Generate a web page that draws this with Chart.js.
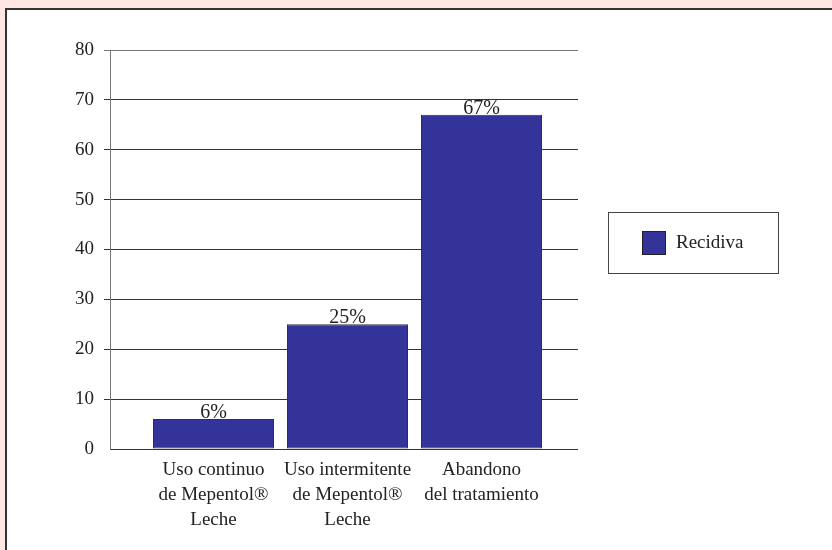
<!DOCTYPE html>
<html>
<head>
<meta charset="utf-8">
<script src="https://cdn.jsdelivr.net/npm/chart.js@4/dist/chart.umd.min.js"></script>
<style>
  html, body { margin: 0; padding: 0; }
  body { width: 832px; height: 550px; background: #fde6e4; position: relative; overflow: hidden; }
  #panel { position: absolute; left: 5px; top: 8px; width: 900px; height: 600px; background: #ffffff;
           border-top: 2px solid #333333; border-left: 2px solid #333333; }
  #c { position: absolute; left: 0; top: 0; }
</style>
</head>
<body>
<div id="panel"></div>
<canvas id="c" width="832" height="550"></canvas>
<script>
const categories = [
  ["Uso continuo", "de Mepentol®", "Leche"],
  ["Uso intermitente", "de Mepentol®", "Leche"],
  ["Abandono", "del tratamiento"]
];
const seriesName = "Recidiva";
const recidiva = [6, 25, 67];
const valueLabels = ["6%", "25%", "67%"];
const yTicks = [0, 10, 20, 30, 40, 50, 60, 70, 80];

const FONT = "'Liberation Serif', 'DejaVu Serif', serif";
const BAR = '#333399';

const valueLabelPlugin = {
  id: 'valueLabels',
  afterDatasetsDraw(chart) {
    const ctx = chart.ctx;
    const meta = chart.getDatasetMeta(0);
    ctx.save();
    ctx.font = '20px ' + FONT;
    ctx.fillStyle = '#222';
    ctx.textAlign = 'center';
    ctx.textBaseline = 'alphabetic';
    meta.data.forEach((bar, i) => {
      ctx.fillText(valueLabels[i], bar.x, bar.y - 1);
    });
    ctx.restore();
  }
};

const legendBoxPlugin = {
  id: 'legendBox',
  afterDraw(chart) {
    const ctx = chart.ctx;
    const ds = chart.data.datasets[0];
    ctx.save();
    ctx.strokeStyle = '#444';
    ctx.lineWidth = 1;
    ctx.fillStyle = '#fff';
    ctx.fillRect(608.5, 212.5, 170, 61);
    ctx.strokeRect(608.5, 212.5, 170, 61);
    ctx.fillStyle = ds.backgroundColor;
    ctx.fillRect(642.5, 231.5, 23, 23);
    ctx.strokeStyle = '#222';
    ctx.strokeRect(642.5, 231.5, 23, 23);
    ctx.font = '19px ' + FONT;
    ctx.fillStyle = '#222';
    ctx.textAlign = 'left';
    ctx.textBaseline = 'middle';
    ctx.fillText(ds.label, 676, 243);
    ctx.restore();
  }
};

new Chart(document.getElementById('c'), {
  type: 'bar',
  data: {
    datasets: [{
      label: seriesName,
      data: recidiva.map((v, i) => ({ x: i, y: v })),
      backgroundColor: BAR,
      borderColor: '#333',
      borderWidth: 1,
      borderSkipped: false,
      barPercentage: 0.903,
      categoryPercentage: 1
    }]
  },
  options: {
    responsive: false,
    animation: false,
    events: [],
    layout: { padding: { left: 0, right: 254, top: 50, bottom: 0 } },
    plugins: { legend: { display: false }, tooltip: { enabled: false } },
    scales: {
      x: {
        type: 'linear',
        offset: false,
        min: -0.7724,
        max: 2.7201,
        afterFit(s) { s.height = 101; s.paddingLeft = 0; s.paddingRight = 0; },
        afterBuildTicks(s) { s.ticks = categories.map((c, i) => ({ value: i })); },
        grid: { display: false, drawTicks: false, offset: false },
        border: { display: false },
        ticks: {
          autoSkip: false,
          maxRotation: 0,
          padding: 9,
          color: '#222',
          font: { family: FONT, size: 19, lineHeight: 1.3 },
          callback: (v) => categories[v]
        }
      },
      y: {
        min: 0,
        max: 80,
        afterFit(s) { s.width = 110; },
        afterBuildTicks(s) { s.ticks = yTicks.map(v => ({ value: v })); },
        border: { display: true, color: '#777', width: 1 },
        grid: {
          color: (c) => (c.tick && c.tick.value === 80) ? '#777' : '#333',
          tickColor: (c) => (c.tick && c.tick.value === 0) ? 'rgba(0,0,0,0)' : ((c.tick && c.tick.value === 80) ? '#777' : '#333'),
          tickLength: 6,
          lineWidth: 1
        },
        ticks: {
          padding: 10,
          color: '#222',
          font: { family: FONT, size: 19 }
        }
      }
    }
  },
  plugins: [valueLabelPlugin, legendBoxPlugin]
});
</script>
</body>
</html>
